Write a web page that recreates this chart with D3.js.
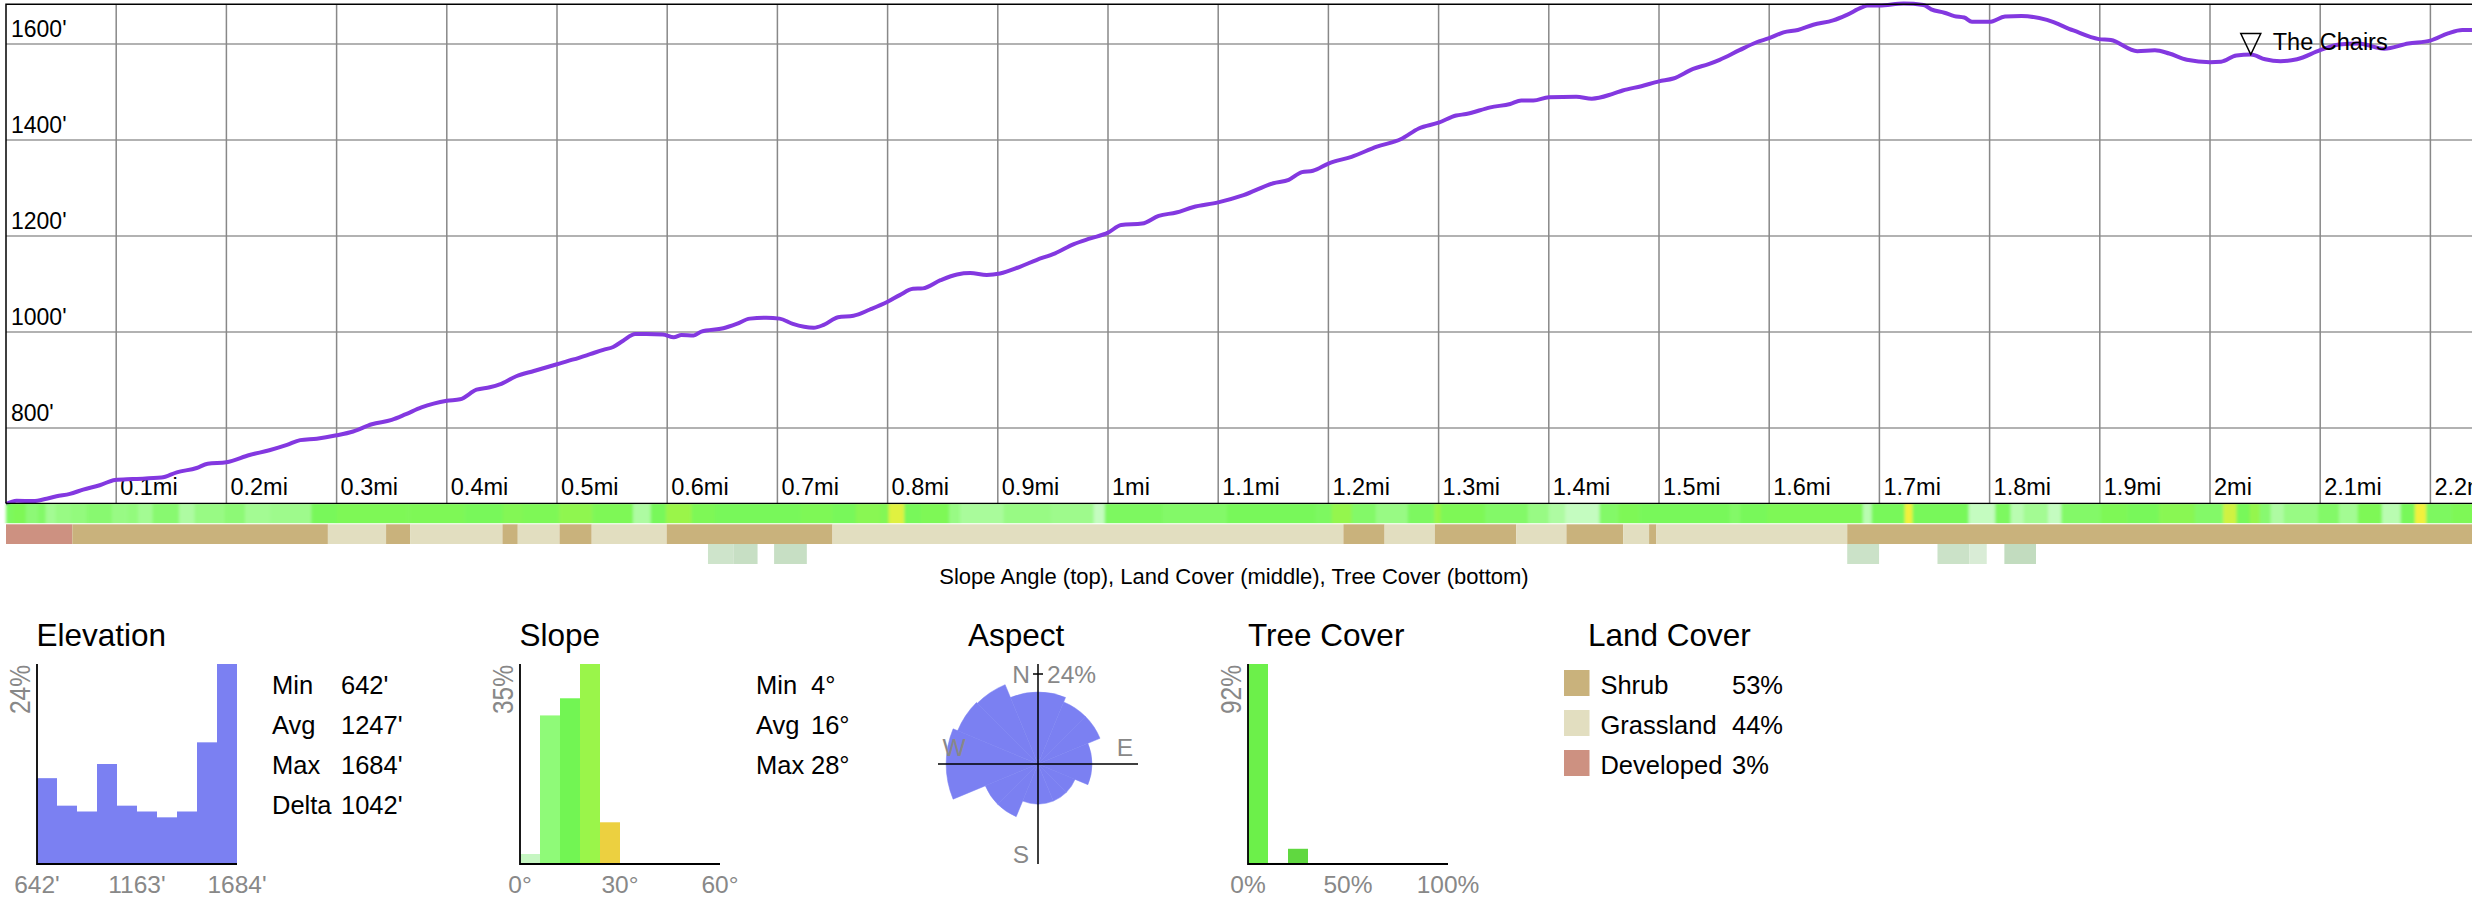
<!DOCTYPE html>
<html>
<head>
<meta charset="utf-8">
<title>Elevation profile</title>
<script src="https://cdn.jsdelivr.net/npm/d3@7"></script>
<style>
	html, body { margin: 0; padding: 0; background: #fff; }
	svg { display: block; font-family: "Liberation Sans", Arial, sans-serif; }
</style>
</head>
<body>
<div id="chart"></div>
<script>
// Profile, [miles, feet]
const profile = [
	[0, 642], [0.0096, 649], [0.0247, 648], [0.0368, 653], [0.0459, 658], [0.058, 663], [0.07, 672], [0.085, 681],
	[0.099, 692], [0.115, 694], [0.141, 697], [0.155, 708], [0.173, 717], [0.183, 726], [0.2, 729], [0.221, 744],
	[0.239, 754], [0.255, 765], [0.267, 775], [0.282, 778], [0.3, 785], [0.315, 793], [0.332, 808], [0.35, 817],
	[0.363, 829], [0.377, 843], [0.388, 851], [0.4, 857], [0.412, 860], [0.427, 880], [0.439, 885], [0.448, 891],
	[0.463, 908], [0.479, 919], [0.5, 933], [0.515, 943], [0.53, 954], [0.542, 963], [0.551, 969], [0.56, 982],
	[0.571, 996], [0.581, 996], [0.596, 995], [0.606, 989], [0.613, 994], [0.624, 993], [0.631, 1001], [0.651, 1008],
	[0.663, 1017], [0.675, 1028], [0.69, 1030], [0.702, 1028], [0.714, 1017], [0.733, 1009], [0.742, 1015], [0.755, 1031],
	[0.769, 1034], [0.784, 1047], [0.8, 1063], [0.811, 1077], [0.823, 1090], [0.832, 1091], [0.848, 1108], [0.863, 1120],
	[0.875, 1123], [0.89, 1119], [0.902, 1122], [0.92, 1136], [0.935, 1150], [0.952, 1164], [0.969, 1183], [0.984, 1195],
	[1, 1207], [1.012, 1223], [1.031, 1226], [1.046, 1242], [1.062, 1249], [1.077, 1260], [1.1, 1270], [1.123, 1285],
	[1.15, 1310], [1.164, 1317], [1.176, 1333], [1.186, 1336], [1.2, 1351], [1.221, 1365], [1.244, 1386], [1.266, 1402],
	[1.282, 1424], [1.3, 1436], [1.316, 1451], [1.325, 1454], [1.347, 1468], [1.365, 1475], [1.375, 1482], [1.386, 1482],
	[1.4, 1489], [1.425, 1490], [1.439, 1486], [1.458, 1496], [1.467, 1503], [1.484, 1512], [1.5, 1522], [1.513, 1528],
	[1.531, 1548], [1.545, 1558], [1.555, 1567], [1.573, 1587], [1.588, 1603], [1.6, 1612], [1.613, 1624], [1.626, 1629],
	[1.64, 1640], [1.658, 1649], [1.67, 1660], [1.684, 1676], [1.689, 1680], [1.7, 1680], [1.722, 1684], [1.74, 1681],
	[1.747, 1672], [1.759, 1665], [1.768, 1658], [1.777, 1655], [1.784, 1646], [1.8, 1646], [1.814, 1657], [1.829, 1658],
	[1.852, 1650], [1.876, 1628], [1.899, 1610], [1.91, 1608], [1.934, 1585], [1.95, 1587], [1.963, 1580], [1.979, 1567],
	[2, 1562], [2.01, 1563], [2.024, 1576], [2.037, 1578], [2.05, 1568], [2.064, 1564], [2.079, 1568], [2.1, 1587],
	[2.117, 1599], [2.135, 1601], [2.158, 1590], [2.18, 1601], [2.2, 1607], [2.216, 1622], [2.229, 1629], [2.238, 1629]
];

const elevationTicks = [800, 1000, 1200, 1400, 1600];
const distanceTicks = d3.range(1, 23).map((d) => d / 10);

// Strips: [end mile, value]
const slopeRuns = [
	[0.006, 14], [0.018, 16], [0.029, 11], [0.036, 13], [0.045, 8], [0.059, 9], [0.073, 10], [0.096, 12],
	[0.11, 9], [0.12, 10], [0.133, 8], [0.157, 12], [0.171, 7], [0.198, 9], [0.217, 11], [0.24, 8],
	[0.277, 8.5], [0.3, 15], [0.365, 16], [0.416, 16], [0.451, 15], [0.469, 17], [0.502, 16], [0.532, 19],
	[0.569, 16], [0.585, 7], [0.599, 15], [0.622, 21], [0.643, 16], [0.721, 15], [0.75, 16], [0.771, 15],
	[0.793, 18], [0.801, 17], [0.815, 25], [0.83, 15], [0.856, 16], [0.866, 9], [0.905, 7.5], [0.948, 9],
	[0.987, 8.5], [0.997, 5], [1.05, 14], [1.108, 13], [1.189, 15], [1.203, 14], [1.221, 20], [1.243, 13],
	[1.272, 9], [1.296, 14], [1.302, 21], [1.342, 16], [1.381, 13], [1.4, 9], [1.415, 7], [1.446, 5],
	[1.463, 13], [1.482, 16], [1.564, 15], [1.574, 13], [1.598, 15], [1.685, 16], [1.693, 6], [1.723, 15],
	[1.73, 27], [1.781, 15], [1.805, 5], [1.819, 14], [1.831, 6], [1.853, 8], [1.865, 5], [1.901, 13],
	[1.925, 16], [1.954, 15], [1.986, 18], [2.012, 13], [2.024, 24], [2.036, 15], [2.045, 20], [2.055, 12],
	[2.067, 7], [2.098, 9], [2.117, 13], [2.134, 8], [2.156, 16], [2.173, 6], [2.186, 15], [2.196, 26],
	[2.219, 14], [2.24, 16]
];

const landRuns = [
	[0.0602, "Developed"], [0.2921, "Shrub"], [0.3449, "Grassland"], [0.3667, "Shrub"], [0.4505, "Grassland"],
	[0.4644, "Shrub"], [0.5023, "Grassland"], [0.5315, "Shrub"], [0.5995, "Grassland"], [0.75, "Shrub"],
	[1.2136, "Grassland"], [1.251, "Shrub"], [1.2966, "Grassland"], [1.3704, "Shrub"], [1.416, "Grassland"],
	[1.4675, "Shrub"], [1.491, "Grassland"], [1.4976, "Shrub"], [1.6708, "Grassland"], [2.24, "Shrub"]
];

// [start mile, end mile, percent]
const treeRuns = [
	[0.637, 0.66, 20], [0.66, 0.682, 23], [0.697, 0.7267, 23], [1.6708, 1.6997, 21],
	[1.7527, 1.7815, 21], [1.7815, 1.7974, 15], [1.8134, 1.8421, 25]
];

const landCategories = ["Shrub", "Grassland", "Developed"];
const landColors = ["#c9b27c", "#e2dec0", "#cd9181"];
const landPercents = [53, 44, 3];

// Histograms
const elevationBins = [10.3, 7, 6.3, 12, 7, 6.3, 5.6, 6.3, 14.6, 24];
const slopeBins = [1.75, 26, 29, 35, 7.3];
const slopeBinColors = ["#c6f6c2", "#8ffa78", "#72f553", "#9af54a", "#ecd040"];
const treeBins = [92, 0.6, 7];
const treeBinColors = ["#6cf04a", "#e4f4e0", "#60d840"];
const aspectBins = [19.2, 17.9, 17.9, 14.4, 14.4, 10.7, 10.7, 10.7, 10.7, 15.2, 15.2, 24.5, 24.5, 23.2, 22.9, 19.2];

const elevationStats = [["Min", "642'"], ["Avg", "1247'"], ["Max", "1684'"], ["Delta", "1042'"]];
const slopeStats = [["Min", "4°"], ["Avg", "16°"], ["Max", "28°"]];
const waypoint = { name: "The Chairs", mile: 2.037, feet: 1578 };

const width = 2472;
const height = 914;
const purple = "#8338e0";
const blue = "#7b80f2";
const grey = "#888";
const fontSize = 24.5;
const statSize = 25.5;

const svg = d3
	.select("#chart")
	.append("svg")
	.attr("width", width)
	.attr("height", height)
	.attr("viewBox", `0 0 ${width} ${height}`);

// Soft edges on the slope strip, the cells run into each other
svg.append("defs")
	.append("filter")
	.attr("id", "soft")
	.attr("x", "-1%")
	.attr("width", "102%")
	.append("feGaussianBlur")
	.attr("stdDeviation", "1.6 0");

const x = d3.scaleLinear().domain([0, 2.2]).range([6, 2430.4]);
const y = d3.scaleLinear().domain([642, 1684]).range([504, 3.6]);
const plotTop = 4.3;
const plotBottom = 503.5;

// Grid
svg
	.append("g")
	.selectAll("line")
	.data(elevationTicks)
	.join("line")
	.attr("x1", x(0))
	.attr("x2", width)
	.attr("y1", (d) => y(d))
	.attr("y2", (d) => y(d))
	.attr("stroke", "#999")
	.attr("stroke-width", 1.5);

svg
	.append("g")
	.selectAll("line")
	.data(distanceTicks)
	.join("line")
	.attr("x1", (d) => x(d))
	.attr("x2", (d) => x(d))
	.attr("y1", plotTop)
	.attr("y2", plotBottom)
	.attr("stroke", "#888")
	.attr("stroke-width", 1.5);

// Tick labels
svg
	.append("g")
	.selectAll("text")
	.data(elevationTicks)
	.join("text")
	.attr("x", x(0) + 5)
	.attr("y", (d) => y(d) - 7)
	.attr("font-size", fontSize - 1.5)
	.text((d) => `${d}'`);

svg
	.append("g")
	.selectAll("text")
	.data(distanceTicks)
	.join("text")
	.attr("x", (d) => x(d) + 4)
	.attr("y", 495)
	.attr("font-size", fontSize - 1)
	.text((d) => `${d}mi`);

// Elevation line
svg
	.append("path")
	.datum(profile)
	.attr("fill", "none")
	.attr("stroke", purple)
	.attr("stroke-width", 4)
	.attr("stroke-linejoin", "round")
	.attr("d", d3.line().x((d) => x(d[0])).y((d) => y(d[1])).curve(d3.curveMonotoneX));

// Frame
svg.append("path")
	.attr("d", `M${x(0)},${plotBottom}V${plotTop}H${width}M${x(0)},${plotBottom}H${width}`)
	.attr("fill", "none")
	.attr("stroke", "#000")
	.attr("stroke-width", 1.5);

// Waypoint
const wx = x(waypoint.mile);
const wy = y(waypoint.feet);
svg.append("path")
	.attr("d", `M${wx - 10},${wy - 21}H${wx + 10}L${wx},${wy}Z`)
	.attr("fill", "none")
	.attr("stroke", "#000")
	.attr("stroke-width", 1.5);
svg.append("text")
	.attr("x", wx + 22)
	.attr("y", wy - 4.5)
	.attr("font-size", 23.5)
	.text(waypoint.name);

// Strips
const slopeColor = d3
	.scaleLinear()
	.domain([5, 9, 15, 21, 26])
	.range(["#c4fcc0", "#98fa84", "#78f85a", "#9af54a", "#f2f03c"])
	.clamp(true);
const landColor = d3.scaleOrdinal().domain(landCategories).range(landColors);
const treeColor = d3.scaleLinear().domain([15, 25]).range(["#d9ecd6", "#c2dcbf"]);

function runStart(runs, i) {
	return i === 0 ? 0 : runs[i - 1][0];
}

svg
	.append("g")
	.attr("filter", "url(#soft)")
	.selectAll("rect")
	.data(slopeRuns)
	.join("rect")
	.attr("x", (d, i) => x(runStart(slopeRuns, i)))
	.attr("width", (d, i) => x(d[0]) - x(runStart(slopeRuns, i)) + 0.5)
	.attr("y", 504.2)
	.attr("height", 19)
	.attr("fill", (d) => slopeColor(d[1]));

svg
	.append("g")
	.selectAll("rect")
	.data(landRuns)
	.join("rect")
	.attr("x", (d, i) => x(runStart(landRuns, i)))
	.attr("width", (d, i) => x(d[0]) - x(runStart(landRuns, i)))
	.attr("y", 524.3)
	.attr("height", 19.7)
	.attr("fill", (d) => landColor(d[1]));

svg
	.append("g")
	.selectAll("rect")
	.data(treeRuns)
	.join("rect")
	.attr("x", (d) => x(d[0]))
	.attr("width", (d) => x(d[1]) - x(d[0]))
	.attr("y", 544)
	.attr("height", 20)
	.attr("fill", (d) => treeColor(d[2]));

svg.append("text")
	.attr("x", 1234)
	.attr("y", 584)
	.attr("text-anchor", "middle")
	.attr("font-size", 22)
	.text("Slope Angle (top), Land Cover (middle), Tree Cover (bottom)");

// Small panels
const panelTop = 664;
const panelBottom = 864;
const titleY = 646;
const labelY = 893;

function title(text, left) {
	svg.append("text").attr("x", left).attr("y", titleY).attr("font-size", 31.5).text(text);
}

function greyLabel(text, px, py, anchor) {
	svg.append("text")
		.attr("x", px)
		.attr("y", py)
		.attr("text-anchor", anchor || "middle")
		.attr("fill", grey)
		.attr("font-size", fontSize)
		.text(text);
}

function histogram(left, bins, maxValue, binCount, colors, tickLabels) {
	const band = d3.scaleBand().domain(d3.range(binCount)).range([left, left + 200]);
	const h = d3.scaleLinear().domain([0, maxValue]).range([panelBottom, panelTop]);

	svg.append("g")
		.selectAll("rect")
		.data(bins)
		.join("rect")
		.attr("x", (d, i) => band(i))
		.attr("width", band.bandwidth())
		.attr("y", (d) => h(d))
		.attr("height", (d) => panelBottom - h(d))
		.attr("fill", (d, i) => (colors ? colors[i] : blue));

	svg.append("path")
		.attr("d", `M${left},${panelTop}V${panelBottom}H${left + 200}`)
		.attr("fill", "none")
		.attr("stroke", "#000")
		.attr("stroke-width", 1.8);

	// the rotated labels in the reference are a bit fatter than plain text
	svg.append("text")
		.attr("transform", `translate(${left - 7},${panelTop + 1}) rotate(-90) scale(1,1.2)`)
		.attr("text-anchor", "end")
		.attr("fill", grey)
		.attr("font-size", fontSize)
		.text(`${maxValue}%`);

	tickLabels.forEach((t, i) => greyLabel(t, left + i * 100, labelY));
}

function stats(rows, labelX, valueX) {
	rows.forEach((row, i) => {
		const rowY = 694 + i * 40;
		svg.append("text").attr("x", labelX).attr("y", rowY).attr("font-size", statSize).text(row[0]);
		svg.append("text").attr("x", valueX).attr("y", rowY).attr("font-size", statSize).text(row[1]);
	});
}

// Elevation
title("Elevation", 36.5);
histogram(37, elevationBins, 24, 10, null, ["642'", "1163'", "1684'"]);
stats(elevationStats, 272, 341);

// Slope
title("Slope", 519.5);
histogram(520, slopeBins, 35, 10, slopeBinColors, ["0°", "30°", "60°"]);
stats(slopeStats, 756, 811);

// Aspect
title("Aspect", 968);
const cx = 1038;
const cy = 764;
const radius = d3.scaleLinear().domain([0, 24]).range([0, 90]);
const sector = (2 * Math.PI) / aspectBins.length;

svg.append("g")
	.attr("transform", `translate(${cx},${cy})`)
	.selectAll("path")
	.data(aspectBins)
	.join("path")
	.attr("fill", blue)
	.attr("stroke", blue)
	.attr("stroke-width", 0.5)
	.attr("d", (d, i) => d3.arc()({
		innerRadius: 0,
		outerRadius: radius(d),
		startAngle: i * sector,
		endAngle: (i + 1) * sector
	}));

svg.append("path")
	.attr("d", `M${cx},${panelTop}V${panelBottom}M${cx - 100},${cy}H${cx + 100}M${cx - 5},${cy - radius(24)}H${cx + 5}`)
	.attr("fill", "none")
	.attr("stroke", "#000")
	.attr("stroke-width", 1.5);

greyLabel("N", cx - 17, 683);
greyLabel("24%", cx + 9, 683, "start");
greyLabel("W", cx - 84, 756);
greyLabel("E", cx + 87, 756);
greyLabel("S", cx - 17, 863);

// Tree cover
title("Tree Cover", 1248);
histogram(1248, treeBins, 92, 10, treeBinColors, ["0%", "50%", "100%"]);

// Land cover
title("Land Cover", 1588);
const legendY = d3.scalePoint().domain(landCategories).range([670, 750]);

svg.append("g")
	.selectAll("rect")
	.data(landCategories)
	.join("rect")
	.attr("x", 1564)
	.attr("y", (d) => legendY(d))
	.attr("width", 25.5)
	.attr("height", 26)
	.attr("fill", (d) => landColor(d));

landCategories.forEach((name, i) => {
	const rowY = legendY(name) + 24;
	svg.append("text").attr("x", 1600.4).attr("y", rowY).attr("font-size", statSize).text(name);
	svg.append("text").attr("x", 1732).attr("y", rowY).attr("font-size", statSize).text(`${landPercents[i]}%`);
});
</script>
</body>
</html>
